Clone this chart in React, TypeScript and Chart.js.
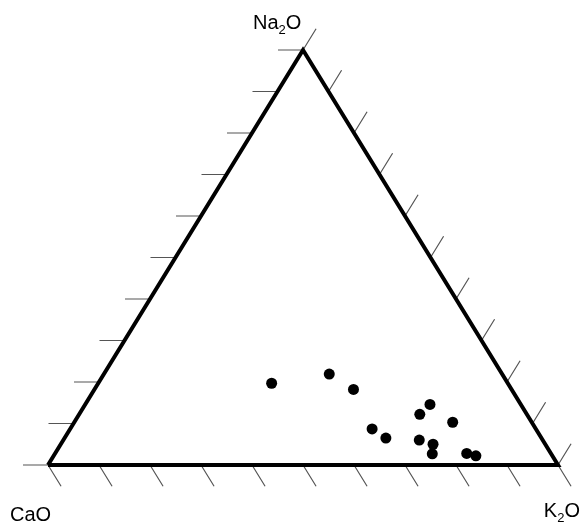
import React, { useEffect, useRef } from "react";
import { Chart, registerables } from "chart.js";

Chart.register(...registerables);

// Ternary compositions (CaO, Na2O, K2O in %)
const sampleCaO = [46.3, 33.9, 31.0, 32.1, 30.5, 21.0, 17.8, 15.5, 24.2, 22.0, 23.3, 16.5, 15.0];
const sampleNa2O = [19.7, 21.9, 18.2, 8.7, 6.5, 12.2, 14.6, 10.3, 6.0, 5.0, 2.7, 2.8, 2.2];
const sampleK2O = [34.0, 44.2, 50.8, 59.2, 63.0, 66.8, 67.6, 74.2, 69.8, 73.0, 74.0, 80.7, 82.8];

const tickValues = [0, 10, 20, 30, 40, 50, 60, 70, 80, 90, 100];

// vertex labels as [text, isSubscript] parts
const labelCaO: [string, boolean][] = [["CaO", false]];
const labelK2O: [string, boolean][] = [["K", false], ["2", true], ["O", false]];
const labelNa2O: [string, boolean][] = [["Na", false], ["2", true], ["O", false]];

function toXY(ca: number, na: number, k: number) {
  const s = ca + na + k;
  return { x: ((k + na / 2) / s) * 100, y: (na / s) * 100 };
}

const FONT = "'Liberation Sans', Arial, sans-serif";
const MAIN = 20;
const SUB = 13;

function measureChem(ctx: CanvasRenderingContext2D, parts: [string, boolean][]) {
  let w = 0;
  for (const [t, sub] of parts) {
    ctx.font = `${sub ? SUB : MAIN}px ${FONT}`;
    w += ctx.measureText(t).width;
  }
  return w;
}

function drawChem(ctx: CanvasRenderingContext2D, parts: [string, boolean][], left: number, baseline: number) {
  let x = left;
  ctx.textAlign = "left";
  ctx.textBaseline = "alphabetic";
  ctx.fillStyle = "#000";
  for (const [t, sub] of parts) {
    ctx.font = `${sub ? SUB : MAIN}px ${FONT}`;
    ctx.fillText(t, x, baseline + (sub ? 5 : 0));
    x += ctx.measureText(t).width;
  }
}

const ternaryPlugin = {
  id: "ternaryDecor",
  beforeDatasetsDraw(chart: any) {
    const ctx: CanvasRenderingContext2D = chart.ctx;
    const xs = chart.scales.x;
    const ys = chart.scales.y;
    const px = (p: { x: number; y: number }) => ({ x: xs.getPixelForValue(p.x), y: ys.getPixelForValue(p.y) });
    const A = px(toXY(100, 0, 0)); // CaO
    const B = px(toXY(0, 0, 100)); // K2O
    const C = px(toXY(0, 100, 0)); // Na2O
    const unit = (a: any, b: any) => {
      const dx = b.x - a.x, dy = b.y - a.y;
      const l = Math.hypot(dx, dy);
      return { x: dx / l, y: dy / l };
    };
    const dirLeft = { x: -1, y: 0 };
    const dirBottom = unit(C, B);
    const dirRight = unit(A, C);
    const L = 25;
    ctx.save();
    ctx.strokeStyle = "#555";
    ctx.lineWidth = 1.2;
    ctx.beginPath();
    for (const t of tickValues) {
      const pL = px(toXY(100 - t, t, 0));
      ctx.moveTo(pL.x, pL.y);
      ctx.lineTo(pL.x + dirLeft.x * L, pL.y + dirLeft.y * L);
      const pB = px(toXY(100 - t, 0, t));
      ctx.moveTo(pB.x, pB.y);
      ctx.lineTo(pB.x + dirBottom.x * L, pB.y + dirBottom.y * L);
      const pR = px(toXY(0, t, 100 - t));
      ctx.moveTo(pR.x, pR.y);
      ctx.lineTo(pR.x + dirRight.x * L, pR.y + dirRight.y * L);
    }
    ctx.stroke();
    ctx.restore();
  },
  afterDatasetsDraw(chart: any) {
    const ctx: CanvasRenderingContext2D = chart.ctx;
    const xs = chart.scales.x;
    const ys = chart.scales.y;
    const px = (p: { x: number; y: number }) => ({ x: xs.getPixelForValue(p.x), y: ys.getPixelForValue(p.y) });
    const A = px(toXY(100, 0, 0));
    const B = px(toXY(0, 0, 100));
    const C = px(toXY(0, 100, 0));
    ctx.save();
    drawChem(ctx, labelNa2O, C.x - 50, C.y - 21);
    drawChem(ctx, labelCaO, A.x - 38, A.y + 56);
    const wK = measureChem(ctx, labelK2O);
    drawChem(ctx, labelK2O, B.x + 22 - wK, B.y + 52);
    ctx.restore();
  },
};

export default function App() {
  const ref = useRef<HTMLCanvasElement | null>(null);
  useEffect(() => {
    if (!ref.current) return;
    const tri = [toXY(100, 0, 0), toXY(0, 0, 100), toXY(0, 100, 0), toXY(100, 0, 0)];
    const pts = sampleCaO.map((c, i) => toXY(c, sampleNa2O[i], sampleK2O[i]));
    const chart = new Chart(ref.current, {
      type: "scatter",
      data: {
        datasets: [
          {
            type: "line",
            data: tri,
            borderColor: "#000",
            borderWidth: 4,
            pointRadius: 0,
            fill: false,
            tension: 0,
            borderJoinStyle: "miter",
            clip: false,
          } as any,
          {
            type: "scatter",
            data: pts,
            backgroundColor: "#000",
            borderColor: "#000",
            pointRadius: 5.5,
            borderWidth: 0,
            clip: false,
          } as any,
        ],
      },
      options: {
        responsive: false,
        animation: false,
        layout: { padding: { left: 48, top: 50, right: 24, bottom: 59 } },
        plugins: { legend: { display: false }, tooltip: { enabled: false } },
        scales: {
          x: { type: "linear", min: 0, max: 100, display: false },
          y: { type: "linear", min: 0, max: 100, display: false },
        },
      },
      plugins: [ternaryPlugin],
    });
    return () => chart.destroy();
  }, []);
  return (
    <div style={{ position: "absolute", left: 0, top: 0, width: 582, height: 524, background: "#fff" }}>
      <canvas ref={ref} width={582} height={524} style={{ display: "block" }} />
    </div>
  );
}
